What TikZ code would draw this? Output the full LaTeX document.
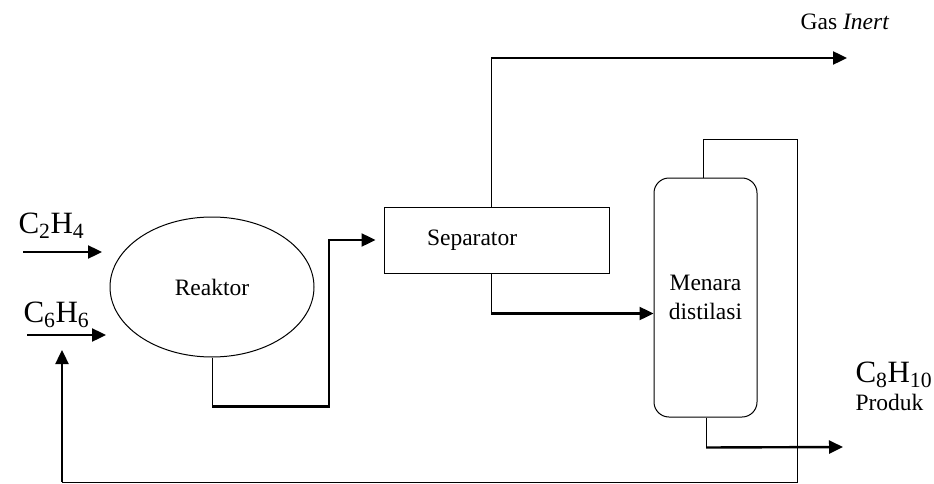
\documentclass[tikz,border=0pt]{standalone}
\usepackage{fontspec}
\setmainfont{Liberation Serif}
\usetikzlibrary{arrows.meta,shapes.geometric}
\tikzset{
	thinline/.style = {line width = 1pt},
	flowline/.style = {line width = 2.4pt, -{Triangle[length = 14pt, width = 13pt]}},
	bodytext/.style = {font = \fontsize{23.5}{28.5}\selectfont},
	formula/.style = {font = \fontsize{31}{36}\selectfont},
}
\begin{document}
\begin{tikzpicture}[x = 1pt, y = -1pt]
	\useasboundingbox (0,0) rectangle (934,484);
	
	% units
	\node[draw, thinline, ellipse, minimum width = 204pt, minimum height = 140pt, bodytext] (reaktor) at (212, 287) {Reaktor};
	\node[draw, thinline, minimum width = 225pt, minimum height = 66pt] (separator) at (496.5, 240) {};
	\node[bodytext, anchor = west] (septext) at ([xshift = 40pt]separator.west) {Separator};
	\node[draw, thinline, rounded corners = 15pt, minimum width = 103pt, minimum height = 239pt, align = center, bodytext] (menara) at (705.5, 297.5) {Menara\\distilasi};
	
	% feed
	\coordinate (c2in) at (23, 252);
	\coordinate (c2out) at (102, 252);
	\draw[flowline] (c2in) to (c2out);
	\node[formula, anchor = base west] (c2h4) at (15, 233) {C\textsubscript{2}H\textsubscript{4}};
	
	\coordinate (c6in) at (27, 335);
	\coordinate (c6out) at (106, 335);
	\draw[flowline] (c6in) to (c6out);
	\node[formula, anchor = base west] (c6h6) at (20, 322) {C\textsubscript{6}H\textsubscript{6}};
	
	% reaktor -> separator
	\draw[thinline] (reaktor.south) -- ++(0, 49) coordinate (r1);
	\draw[flowline, shorten > = 8pt] (r1) -- ++(117, 0) |- (separator.west);
	
	% gas inert
	\coordinate (gas) at (491, 58);
	\coordinate (gasend) at (847, 58);
	\draw[thinline] ([xshift = -5.5pt]separator.north) -- (gas);
	\draw[flowline] (gas) to (gasend);
	\node[bodytext] (gasinert) at (845, 22) {Gas \textit{Inert}};
	
	% separator -> menara
	\draw[thinline] ([xshift = -5.5pt]separator.south) -- ++(0, 40) coordinate (l1);
	\draw[flowline] (l1) -- (l1 -| menara.west);
	
	% recycle
	\coordinate (rc) at (797, 482);
	\coordinate (rl) at (62, 482);
	\coordinate (rend) at (62, 350);
	\draw[thinline] ([xshift = -2.5pt]menara.north) |- (797, 140) -- (rc) -- (rl);
	\draw[flowline] (rl) to (rend);
	
	% produk
	\coordinate (prod) at (843, 447);
	\draw[thinline] ([xshift = 0.5pt]menara.south) -- ++(0, 30) coordinate (p1);
	\draw[flowline] (p1) to (prod);
	\node[formula, anchor = base west] (c8h10) at (852, 382) {C\textsubscript{8}H\textsubscript{10}};
	\node[bodytext, anchor = base west] (produk) at (852, 410) {Produk};
\end{tikzpicture}
\end{document}
